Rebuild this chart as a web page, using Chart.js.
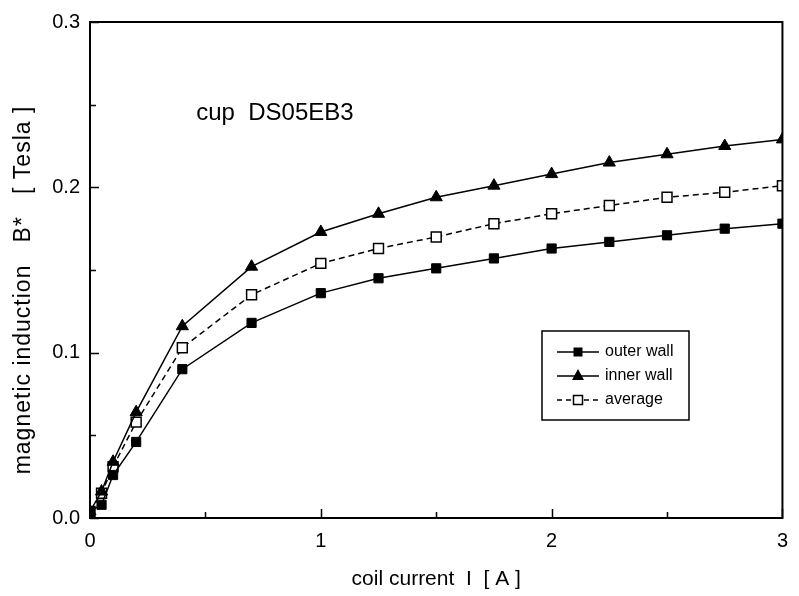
<!DOCTYPE html>
<html>
<head>
<meta charset="utf-8">
<script src="https://cdn.jsdelivr.net/npm/chart.js@4"></script>
<style>
  html, body { margin: 0; padding: 0; background: #fff; }
  #wrap { width: 799px; height: 596px; }
</style>
</head>
<body>
<div id="wrap"><canvas id="grafico" width="799" height="596"></canvas></div>
<script>
// coil current I [A]
const corrente = [0, 0.05, 0.1, 0.2, 0.4, 0.7, 1.0, 1.25, 1.5, 1.75, 2.0, 2.25, 2.5, 2.75, 3.0];
// magnetic induction B* [T]
const paredeExterna = [0.004, 0.008, 0.026, 0.046, 0.090, 0.118, 0.136, 0.145, 0.151, 0.157, 0.163, 0.167, 0.171, 0.175, 0.178];
const paredeInterna = [0.004, 0.016, 0.034, 0.064, 0.116, 0.152, 0.173, 0.184, 0.194, 0.201, 0.208, 0.215, 0.220, 0.225, 0.229];
const media = [0.004, 0.015, 0.031, 0.058, 0.103, 0.135, 0.154, 0.163, 0.170, 0.178, 0.184, 0.189, 0.194, 0.197, 0.201];

const rotulosSerie = ["outer wall", "inner wall", "average"];
const ticksX = [0, 1, 2, 3];
const ticksY = [0, 0.1, 0.2, 0.3];

const fonte = "'Liberation Sans', Arial, sans-serif";
const pares = (ys) => corrente.map((x, i) => ({x: x, y: ys[i]}));

// inward ticks, frame, legend box and the sample label
const extras = {
  id: 'extras',
  afterDraw(chart) {
    const ctx = chart.ctx;
    const a = chart.chartArea;
    const sx = chart.scales.x, sy = chart.scales.y;
    ctx.save();
    ctx.strokeStyle = '#000';
    ctx.lineWidth = 1.5;
    ctx.beginPath();
    for (let v = 0; v <= 3.001; v += 0.5) {
      const px = Math.round(sx.getPixelForValue(v)) + 0.5;
      const len = Number.isInteger(v) ? 9 : 6;
      ctx.moveTo(px, a.bottom); ctx.lineTo(px, a.bottom - len);
    }
    for (let v = 0; v <= 0.3001; v += 0.05) {
      const py = Math.round(sy.getPixelForValue(v)) + 0.5;
      const len = Math.abs(v * 10 - Math.round(v * 10)) < 1e-6 ? 9 : 6;
      ctx.moveTo(a.left, py); ctx.lineTo(a.left + len, py);
    }
    ctx.stroke();

    ctx.lineWidth = 2;
    ctx.strokeRect(a.left, a.top, a.right - a.left, a.bottom - a.top);

    // y axis title
    ctx.fillStyle = '#000';
    ctx.font = '23px ' + fonte;
    ctx.letterSpacing = '1px';
    ctx.textAlign = 'center';
    ctx.textBaseline = 'middle';
    ctx.translate(24, 290);
    ctx.rotate(-Math.PI / 2);
    ctx.fillText('magnetic induction   B*   [ Tesla ]', 0, 0);
    ctx.setTransform(1, 0, 0, 1, 0, 0);
    ctx.letterSpacing = '0px';

    // sample name
    ctx.textAlign = 'left';
    ctx.font = '24px ' + fonte;
    ctx.fillText('cup  DS05EB3', sx.getPixelForValue(0.46), sy.getPixelForValue(0.2448));

    // legend
    const bx = 542, by = 331, bw = 147, bh = 89;
    ctx.lineWidth = 1.5;
    ctx.strokeRect(bx, by, bw, bh);
    const linhas = [352, 376, 400];
    const estilos = ['rect', 'triangle', 'open'];
    ctx.font = '16px ' + fonte;
    linhas.forEach((y, i) => {
      ctx.beginPath();
      ctx.setLineDash(i === 2 ? [5, 4] : []);
      ctx.moveTo(557, y); ctx.lineTo(599, y);
      ctx.stroke();
      ctx.setLineDash([]);
      const cx = 578;
      if (estilos[i] === 'rect') {
        ctx.fillRect(cx - 4.5, y - 4.5, 9, 9);
      } else if (estilos[i] === 'triangle') {
        ctx.beginPath();
        ctx.moveTo(cx, y - 7); ctx.lineTo(cx + 6, y + 4); ctx.lineTo(cx - 6, y + 4);
        ctx.closePath(); ctx.fill();
      } else {
        ctx.fillStyle = '#fff';
        ctx.fillRect(cx - 4.5, y - 4.5, 9, 9);
        ctx.fillStyle = '#000';
        ctx.strokeRect(cx - 4.5, y - 4.5, 9, 9);
      }
      ctx.fillText(rotulosSerie[i], 605, y);
    });
    ctx.restore();
  }
};

new Chart(document.getElementById('grafico'), {
  type: 'line',
  data: {
    datasets: [
      {
        label: rotulosSerie[0], data: pares(paredeExterna),
        borderColor: '#000', borderWidth: 1.5,
        pointStyle: 'rect', pointRadius: 6.5,
        pointBackgroundColor: '#000', pointBorderColor: '#000', pointBorderWidth: 1
      },
      {
        label: rotulosSerie[1], data: pares(paredeInterna),
        borderColor: '#000', borderWidth: 1.5,
        pointStyle: 'triangle', pointRadius: 7,
        pointBackgroundColor: '#000', pointBorderColor: '#000', pointBorderWidth: 1
      },
      {
        label: rotulosSerie[2], data: pares(media),
        borderColor: '#000', borderWidth: 1.5, borderDash: [6, 4],
        pointStyle: 'rect', pointRadius: 7,
        pointBackgroundColor: '#fff', pointBorderColor: '#000', pointBorderWidth: 1.5
      }
    ]
  },
  options: {
    responsive: false,
    animation: false,
    devicePixelRatio: 1,
    layout: {padding: {top: 18, right: 14, left: 0, bottom: 0}},
    plugins: {
      legend: {display: false},
      tooltip: {enabled: false}
    },
    scales: {
      x: {
        type: 'linear',
        min: 0, max: 3,
        afterFit: (s) => { s.height = 78; },
        afterBuildTicks: (s) => { s.ticks = ticksX.map(v => ({value: v})); },
        grid: {display: false, drawTicks: false},
        border: {display: false},
        ticks: {
          color: '#000', padding: 11,
          font: {family: fonte, size: 20},
          callback: (v) => String(v)
        },
        title: {
          display: true, text: 'coil current  I  [ A ]', color: '#000',
          font: {family: fonte, size: 21}, padding: {top: 0, bottom: 4}
        }
      },
      y: {
        min: 0, max: 0.3,
        afterFit: (s) => { s.width = 90; },
        afterBuildTicks: (s) => { s.ticks = ticksY.map(v => ({value: v})); },
        grid: {display: false, drawTicks: false},
        border: {display: false},
        ticks: {
          color: '#000', padding: 10,
          font: {family: fonte, size: 20},
          callback: (v) => v.toFixed(1)
        }
      }
    }
  },
  plugins: [extras]
});
</script>
</body>
</html>
